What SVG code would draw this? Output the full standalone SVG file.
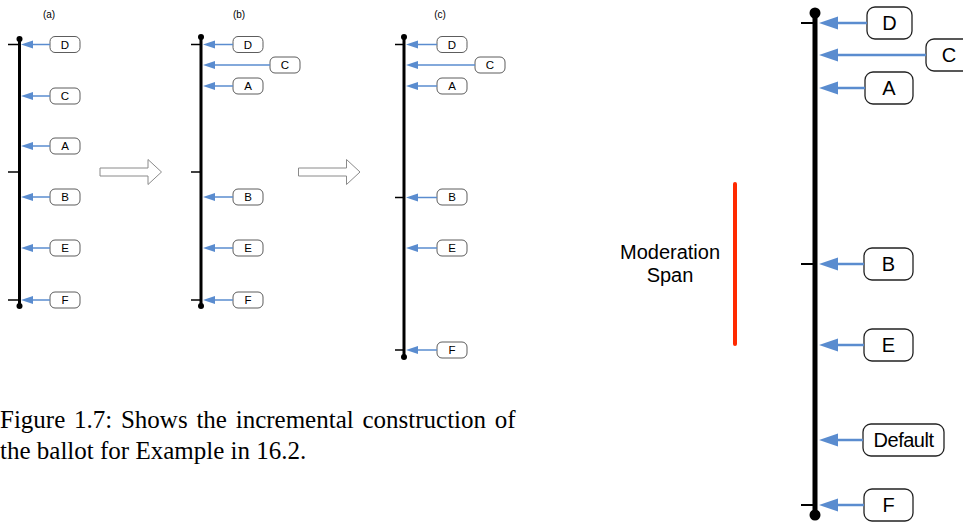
<svg xmlns="http://www.w3.org/2000/svg" width="963" height="523" viewBox="0 0 963 523">
<style>
.ax{stroke:#000;stroke-width:3;fill:none}
.axb{stroke:#000;stroke-width:5;fill:none}
.tk{stroke:#000;stroke-width:1.5}
.tkb{stroke:#000;stroke-width:2}
.ln{stroke:#5a8ccf;stroke-width:1.5;fill:none}
.lnb{stroke:#5a8ccf;stroke-width:2.5;fill:none}
.hd{fill:#5a8ccf}
.bx{fill:#fff;stroke:#333;stroke-width:0.8}
.bxb{fill:#fff;stroke:#222;stroke-width:1.3}
.t{font-family:"Liberation Sans",Arial,sans-serif;font-size:11.5px;text-anchor:middle;fill:#000}
.tb{font-family:"Liberation Sans",Arial,sans-serif;font-size:20px;text-anchor:middle;fill:#000}
.cap{font-family:"Liberation Serif","Times New Roman",serif;font-size:25px;fill:#000}
.ha{fill:#fff;stroke:#8a8a8a;stroke-width:1}
</style>
<defs>
<polygon id="sh" points="0,0 12,-4 12,4"/>
<polygon id="bh" points="0,0 19,-6.5 19,6.5"/>
</defs>

<!-- panel labels -->
<text class="t" x="49" y="18" style="font-size:10px">(a)</text>
<text class="t" x="239" y="18" style="font-size:10px">(b)</text>
<text class="t" x="440" y="18" style="font-size:10px">(c)</text>

<!-- panel (a) -->
<g id="panel-a">
<line class="ax" x1="19.5" y1="39" x2="19.5" y2="306"/>
<circle cx="19.5" cy="39" r="3"/>
<circle cx="19.5" cy="306" r="3"/>
<line class="tk" x1="8" y1="44.5" x2="19.5" y2="44.5"/>
<line class="tk" x1="8" y1="172" x2="19.5" y2="172"/>
<line class="tk" x1="8" y1="300" x2="19.5" y2="300"/>
</g>
<g id="a-D"><rect class="bx" x="50" y="36.5" width="30" height="16" rx="5"/><text class="t" x="65" y="48.7">D</text></g>
<g id="a-C"><rect class="bx" x="50" y="88" width="30" height="16" rx="5"/><text class="t" x="65" y="100.2">C</text></g>
<g id="a-A"><rect class="bx" x="50" y="138" width="30" height="16" rx="5"/><text class="t" x="65" y="150.2">A</text></g>
<g id="a-B"><rect class="bx" x="50" y="189" width="30" height="16" rx="5"/><text class="t" x="65" y="201.2">B</text></g>
<g id="a-E"><rect class="bx" x="50" y="240" width="30" height="16" rx="5"/><text class="t" x="65" y="252.2">E</text></g>
<g id="a-F"><rect class="bx" x="50" y="292" width="30" height="16" rx="5"/><text class="t" x="65" y="304.2">F</text></g>

<!-- panel (b) -->
<g id="panel-b">
<line class="ax" x1="201" y1="37" x2="201" y2="306"/>
<circle cx="201" cy="37" r="3"/>
<circle cx="201" cy="306" r="3"/>
<line class="tk" x1="191" y1="44.5" x2="201" y2="44.5"/>
<line class="tk" x1="191" y1="172" x2="201" y2="172"/>
<line class="tk" x1="191" y1="300" x2="201" y2="300"/>
</g>
<g id="b-D"><rect class="bx" x="233" y="36.5" width="30" height="16" rx="5"/><text class="t" x="248" y="48.7">D</text></g>
<g id="b-C"><rect class="bx" x="270" y="57" width="30" height="16" rx="5"/><text class="t" x="285" y="69.2">C</text></g>
<g id="b-A"><rect class="bx" x="233" y="78" width="30" height="16" rx="5"/><text class="t" x="248" y="90.2">A</text></g>
<g id="b-B"><rect class="bx" x="233" y="189" width="30" height="16" rx="5"/><text class="t" x="248" y="201.2">B</text></g>
<g id="b-E"><rect class="bx" x="233" y="240" width="30" height="16" rx="5"/><text class="t" x="248" y="252.2">E</text></g>
<g id="b-F"><rect class="bx" x="233" y="292" width="30" height="16" rx="5"/><text class="t" x="248" y="304.2">F</text></g>

<!-- panel (c) -->
<g id="panel-c">
<line class="ax" x1="404" y1="37" x2="404" y2="357"/>
<circle cx="404" cy="37" r="3"/>
<circle cx="404" cy="357" r="3"/>
<line class="tk" x1="395" y1="44.5" x2="404" y2="44.5"/>
<line class="tk" x1="395" y1="197.5" x2="404" y2="197.5"/>
<line class="tk" x1="395" y1="350" x2="404" y2="350"/>
</g>
<g id="c-D"><rect class="bx" x="437" y="36.5" width="30" height="16" rx="5"/><text class="t" x="452" y="48.7">D</text></g>
<g id="c-C"><rect class="bx" x="475" y="57" width="30" height="16" rx="5"/><text class="t" x="490" y="69.2">C</text></g>
<g id="c-A"><rect class="bx" x="437" y="78" width="30" height="16" rx="5"/><text class="t" x="452" y="90.2">A</text></g>
<g id="c-B"><rect class="bx" x="437" y="189" width="30" height="16" rx="5"/><text class="t" x="452" y="201.2">B</text></g>
<g id="c-E"><rect class="bx" x="437" y="240" width="30" height="16" rx="5"/><text class="t" x="452" y="252.2">E</text></g>
<g id="c-F"><rect class="bx" x="437" y="342" width="30" height="16" rx="5"/><text class="t" x="452" y="354.2">F</text></g>

<!-- hollow step arrows -->
<g id="step1"><polygon class="ha" points="100,168 148,168 148,159.5 161.5,172 148,184.5 148,176 100,176"/></g>
<g id="step2"><polygon class="ha" points="298.5,168 346.5,168 346.5,159.5 360,172 346.5,184.5 346.5,176 298.5,176"/></g>

<!-- right panel -->
<g id="panel-d">
<line class="axb" x1="815" y1="13" x2="815" y2="515"/>
<circle cx="815" cy="13" r="5.5"/>
<circle cx="815" cy="515" r="5.5"/>
<line class="tkb" x1="801" y1="23" x2="815" y2="23"/>
<line class="tkb" x1="801" y1="264" x2="815" y2="264"/>
<line class="tkb" x1="801" y1="505" x2="815" y2="505"/>
</g>
<g id="d-D"><rect class="bxb" x="867" y="7" width="45" height="32" rx="8"/><text class="tb" x="889.5" y="30">D</text></g>
<g id="d-C"><rect class="bxb" x="926" y="39" width="46" height="32" rx="8"/><text class="tb" x="949" y="62">C</text></g>
<g id="d-A"><rect class="bxb" x="865" y="72" width="48" height="32" rx="8"/><text class="tb" x="889" y="95">A</text></g>
<g id="d-B"><rect class="bxb" x="864" y="248" width="49" height="32" rx="8"/><text class="tb" x="888.5" y="271">B</text></g>
<g id="d-E"><rect class="bxb" x="864" y="329" width="49" height="32" rx="8"/><text class="tb" x="888.5" y="352">E</text></g>
<g id="d-Default"><rect class="bxb" x="863" y="424" width="81" height="32" rx="8"/><text class="tb" x="903.5" y="447" style="letter-spacing:-0.5px">Default</text></g>
<g id="d-F"><rect class="bxb" x="864" y="489" width="49" height="32" rx="8"/><text class="tb" x="888.5" y="512">F</text></g>

<!-- moderation span -->
<g id="moderation">
<line x1="735" y1="184" x2="735" y2="344" stroke="#ff2a00" stroke-width="4" stroke-linecap="round"/>
<text class="tb" x="670" y="259">Moderation</text>
<text class="tb" x="670" y="282">Span</text>
</g>

<!-- connectors -->
<g id="connectors">
<line class="ln" x1="32" y1="44.5" x2="50" y2="44.5"/><use href="#sh" class="hd" x="21" y="44.5"/>
<line class="ln" x1="32" y1="96" x2="50" y2="96"/><use href="#sh" class="hd" x="21" y="96"/>
<line class="ln" x1="32" y1="146" x2="50" y2="146"/><use href="#sh" class="hd" x="21" y="146"/>
<line class="ln" x1="32" y1="197" x2="50" y2="197"/><use href="#sh" class="hd" x="21" y="197"/>
<line class="ln" x1="32" y1="248" x2="50" y2="248"/><use href="#sh" class="hd" x="21" y="248"/>
<line class="ln" x1="32" y1="300" x2="50" y2="300"/><use href="#sh" class="hd" x="21" y="300"/>

<line class="ln" x1="214" y1="44.5" x2="233" y2="44.5"/><use href="#sh" class="hd" x="203" y="44.5"/>
<line class="ln" x1="214" y1="65" x2="270" y2="65"/><use href="#sh" class="hd" x="203" y="65"/>
<line class="ln" x1="214" y1="86" x2="233" y2="86"/><use href="#sh" class="hd" x="203" y="86"/>
<line class="ln" x1="214" y1="197" x2="233" y2="197"/><use href="#sh" class="hd" x="203" y="197"/>
<line class="ln" x1="214" y1="248" x2="233" y2="248"/><use href="#sh" class="hd" x="203" y="248"/>
<line class="ln" x1="214" y1="300" x2="233" y2="300"/><use href="#sh" class="hd" x="203" y="300"/>

<line class="ln" x1="417" y1="44.5" x2="437" y2="44.5"/><use href="#sh" class="hd" x="406" y="44.5"/>
<line class="ln" x1="417" y1="65" x2="475" y2="65"/><use href="#sh" class="hd" x="406" y="65"/>
<line class="ln" x1="417" y1="86" x2="437" y2="86"/><use href="#sh" class="hd" x="406" y="86"/>
<line class="ln" x1="417" y1="197.5" x2="437" y2="197.5"/><use href="#sh" class="hd" x="406" y="197.5"/>
<line class="ln" x1="417" y1="248" x2="437" y2="248"/><use href="#sh" class="hd" x="406" y="248"/>
<line class="ln" x1="417" y1="350" x2="437" y2="350"/><use href="#sh" class="hd" x="406" y="350"/>

<line class="lnb" x1="837" y1="23" x2="867" y2="23"/><use href="#bh" class="hd" x="819" y="23"/>
<line class="lnb" x1="837" y1="55" x2="926" y2="55"/><use href="#bh" class="hd" x="819" y="55"/>
<line class="lnb" x1="837" y1="88" x2="865" y2="88"/><use href="#bh" class="hd" x="819" y="88"/>
<line class="lnb" x1="837" y1="264" x2="864" y2="264"/><use href="#bh" class="hd" x="819" y="264"/>
<line class="lnb" x1="837" y1="345" x2="864" y2="345"/><use href="#bh" class="hd" x="819" y="345"/>
<line class="lnb" x1="837" y1="440" x2="863" y2="440"/><use href="#bh" class="hd" x="819" y="440"/>
<line class="lnb" x1="837" y1="505" x2="864" y2="505"/><use href="#bh" class="hd" x="819" y="505"/>
</g>

<!-- caption -->
<text class="cap" x="0" y="428" style="word-spacing:2.5px">Figure 1.7: Shows the incremental construction of</text>
<text class="cap" x="0" y="459">the ballot for Example in 16.2.</text>
</svg>
